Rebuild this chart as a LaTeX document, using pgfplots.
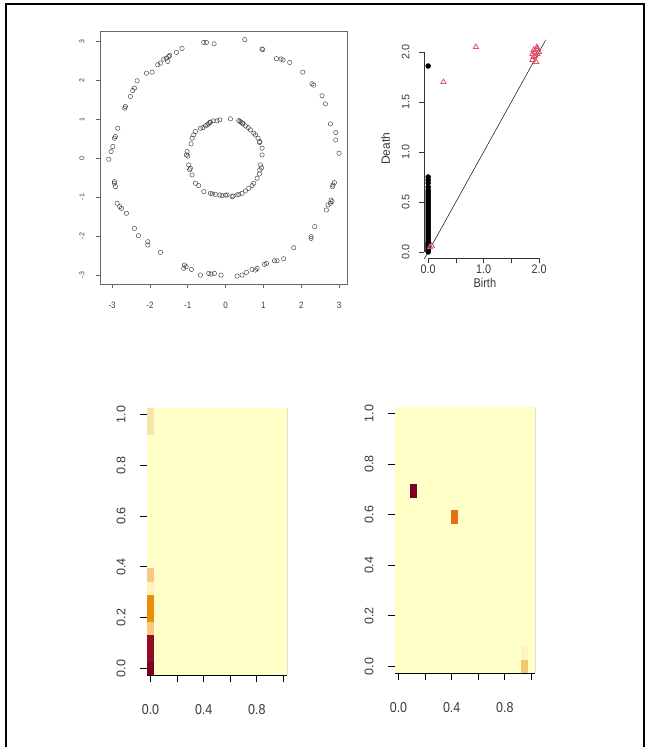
\documentclass[border=0pt]{standalone}
\usepackage{pgfplots}
\pgfplotsset{compat=1.18}
\usepackage{fontspec}
\setmainfont{Liberation Sans}
\definecolor{hbg}{RGB}{255,255,200}
\definecolor{hdr}{RGB}{125,0,36}
\definecolor{hdrb}{RGB}{145,10,40}
\definecolor{hor}{RGB}{238,140,12}
\definecolor{hlo}{RGB}{247,200,130}
\definecolor{hpa}{RGB}{251,228,168}
\definecolor{hfa}{RGB}{253,243,192}
\definecolor{hro}{RGB}{232,108,28}
\definecolor{hbr}{RGB}{240,200,110}
\definecolor{rtri}{HTML}{DF536B}
\pgfplotsset{
  xlab/.style={font=\fontsize{#1}{#1}\selectfont, text=black!78, yscale=1.15},
  ylab/.style={font=\fontsize{#1}{#1}\selectfont, text=black!78, rotate=90, anchor=south},
}
\begin{document}
\begin{tikzpicture}
\useasboundingbox (0pt,0pt) rectangle (645pt,747pt);
\draw[line width=2pt] (5.8pt,0pt) -- (5.8pt,742.7pt) -- (643.8pt,742.7pt) -- (643.8pt,0pt);

% ---------- scatter of two circles ----------
\begin{axis}[at={(100pt,463pt)}, anchor=south west, scale only axis,
  width=247pt, height=253pt,
  xmin=-3.32, xmax=3.21, ymin=-3.23, ymax=3.26,
  xtick={-3,-2,-1,0,1,2,3}, ytick={-3,-2,-1,0,1,2,3},
  xticklabels={-3,-2,-1,0,1,2,3}, yticklabels={-3,-2,-1,0,1,2,3},
  tick align=outside, tick pos=left, major tick length=4pt,
  axis line style={black!60, line width=0.7pt},
  tick style={black!60, line width=0.6pt},
  xticklabel style={xlab=8, yshift=-9pt},
  yticklabel style={xshift=-8pt, ylab=7},
  clip=false]
\addplot[only marks, mark=o, mark size=2.2pt, black!75, line width=0.45pt] coordinates {
(-0.577,2.967) (-0.507,2.967) (-0.304,2.932) (0.507,3.039) (0.965,2.800) (0.982,2.783)
(1.344,2.551) (1.467,2.543) (1.520,2.517) (1.696,2.453) (2.040,2.205) (2.286,1.905)
(2.330,1.871) (2.551,1.597) (2.639,1.391) (2.771,0.878) (2.912,0.655) (2.912,0.467)
(3.000,0.124) (2.877,-0.629) (2.841,-0.689) (2.824,-0.732) (2.789,-1.075) (2.815,-1.117)
(2.771,-1.160) (2.709,-1.203) (2.665,-1.331) (2.357,-1.759) (2.260,-2.016) (2.260,-2.059)
(1.802,-2.299) (1.537,-2.582) (1.291,-2.633) (1.361,-2.633) (1.079,-2.701) (1.026,-2.727)
(0.833,-2.830) (0.789,-2.873) (0.700,-2.855) (0.551,-2.932) (0.436,-3.001) (0.304,-3.027)
(-0.119,-3.001) (-0.295,-2.958) (-0.383,-2.976) (-0.445,-2.958) (-0.665,-3.001) (-0.903,-2.856)
(-1.044,-2.787) (-1.106,-2.830) (-1.088,-2.744) (-1.722,-2.419) (-2.057,-2.230) (-2.057,-2.145)
(-2.304,-1.991) (-2.410,-1.803) (-2.621,-1.417) (-2.753,-1.289) (-2.797,-1.246) (-2.868,-1.160)
(-2.912,-0.732) (-2.938,-0.646) (-2.938,-0.604) (-3.088,-0.030) (-3.026,0.167) (-2.982,0.296)
(-2.938,0.510) (-2.912,0.552) (-2.850,0.766) (-2.665,1.280) (-2.648,1.323) (-2.515,1.580)
(-2.454,1.734) (-2.410,1.794) (-2.339,1.982) (-2.093,2.179) (-1.943,2.205) (-1.793,2.393)
(-1.722,2.436) (-1.634,2.538) (-1.564,2.564) (-1.502,2.607) (-1.476,2.632) (-1.529,2.479)
(-1.300,2.710) (-1.150,2.813)
(-0.225,0.955) (-0.154,0.980) (0.128,1.006) (0.348,0.963) (0.410,0.920) (0.463,0.878)
(0.524,0.826) (0.656,0.723) (0.744,0.638) (0.789,0.595) (0.859,0.509) (0.903,0.423)
(0.965,0.253) (0.965,0.081) (0.921,-0.176) (0.903,-0.304) (0.894,-0.407) (0.833,-0.518)
(0.744,-0.646) (0.700,-0.706) (0.612,-0.775) (0.524,-0.843) (0.436,-0.903) (0.304,-0.946)
(0.198,-0.972) (0.172,-0.989) (0.040,-0.946) (-0.093,-0.963) (-0.154,-0.946) (-0.269,-0.929)
(-0.401,-0.903) (-0.577,-0.860) (-0.709,-0.706) (-0.797,-0.646) (-0.885,-0.432) (-0.930,-0.261)
(-0.974,-0.176) (-1.035,0.081) (-1.018,0.167) (-0.912,0.364) (-0.885,0.509) (-0.841,0.595)
(-0.797,0.681) (-0.665,0.766) (-0.533,0.826) (-0.489,0.852) (-0.419,0.912) (-0.330,0.955)
(-0.450,0.880) (-0.400,0.920) (0.380,0.940) (0.450,0.900) (0.000,-0.950) (-0.350,-0.920)
(0.350,-0.930) (-0.950,-0.300) (-1.000,0.050) (0.950,-0.250) (0.900,0.400) (-0.600,0.780)
(0.600,0.780)
};
\end{axis}

% ---------- persistence diagram ----------
\begin{axis}[at={(424pt,488.5pt)}, anchor=south west, scale only axis,
  width=121.7pt, height=219.5pt,
  xmin=-0.075, xmax=2.12, ymin=-0.065, ymax=2.13,
  axis line style={draw=none},
  xtick={0,0.5,1,1.5,2}, xticklabels={0.0,,1.0,,2.0},
  ytick={0,0.5,1,1.5,2}, yticklabels={0.0,0.5,1.0,1.5,2.0},
  tick align=outside, tick pos=left, major tick length=5pt,
  tick style={black!80, line width=0.7pt},
  xticklabel style={xlab=10.8, yshift=2pt},
  yticklabel style={xshift=-6pt, ylab=10.8},
  xlabel={Birth}, ylabel={Death},
  xlabel style={font=\fontsize{11}{11}\selectfont, text=black!78, yscale=1.15, yshift=3pt},
  ylabel style={font=\fontsize{12}{12}\selectfont, text=black!78, yshift=5pt},
  clip mode=individual]
\draw[black!80, line width=0.7pt] (axis cs:0,-0.065) -- (axis cs:2,-0.065);
\draw[black!80, line width=0.7pt] (axis cs:-0.075,0) -- (axis cs:-0.075,2);
\addplot[black!85, line width=0.6pt] coordinates {(-0.2,-0.2) (2.3,2.3)};
\addplot[only marks, mark=*, mark size=2.5pt, black] coordinates {
(0,0.00) (0,0.01) (0,0.02) (0,0.03) (0,0.04) (0,0.05) (0,0.06) (0,0.07) (0,0.08) (0,0.09)
(0,0.10) (0,0.12) (0,0.14) (0,0.16) (0,0.18) (0,0.20) (0,0.22) (0,0.24) (0,0.26) (0,0.28)
(0,0.30) (0,0.32) (0,0.34) (0,0.36) (0,0.38) (0,0.40) (0,0.42) (0,0.44) (0,0.46) (0,0.48)
(0,0.50) (0,0.52) (0,0.54) (0,0.56) (0,0.58) (0,0.60) (0,0.62) (0,0.65) (0,0.69) (0,0.72)
(0,0.75) (0,1.86)
};
\addplot[only marks, mark=triangle, mark size=3pt, rtri, line width=0.8pt] coordinates {
(0.066,0.063) (0.03,0.05) (0.276,1.70) (0.86,2.05)
(1.88,1.92) (1.90,1.95) (1.92,2.00) (1.95,2.03) (1.97,1.98) (1.93,1.96)
(1.98,2.03) (1.90,2.02) (1.95,1.90) (2.00,2.00) (1.88,1.98) (1.96,2.05)
};
\end{axis}

% ---------- heatmap 1 ----------
\begin{axis}[at={(147pt,72pt)}, anchor=south west, scale only axis,
  width=140pt, height=267pt,
  xmin=-0.0263, xmax=1.0263, ymin=-0.0263, ymax=1.0263,
  axis background/.style={fill=hbg},
  axis x line*=bottom, axis y line*=left,
  y axis line style={draw=none},
  x axis line style={black, line width=0.9pt},
  xtick={0,0.2,0.4,0.6,0.8,1}, xticklabels={0.0,,0.4,,0.8,},
  ytick={0,0.2,0.4,0.6,0.8,1}, yticklabels={0.0,0.2,0.4,0.6,0.8,1.0},
  tick align=outside, major tick length=7pt,
  tick style={black, line width=0.9pt},
  xticklabel style={xlab=12.5, yshift=-16pt},
  yticklabel style={xshift=-11pt, ylab=12.5}]
\addplot[draw=none, fill=hdr] coordinates {(-0.0263,-0.0263) (0.0263,-0.0263) (0.0263,0.0263) (-0.0263,0.0263)} --cycle;
\addplot[draw=none, fill=hdrb] coordinates {(-0.0263,0.0263) (0.0263,0.0263) (0.0263,0.1316) (-0.0263,0.1316)} --cycle;
\addplot[draw=none, fill=hlo] coordinates {(-0.0263,0.1316) (0.0263,0.1316) (0.0263,0.1842) (-0.0263,0.1842)} --cycle;
\addplot[draw=none, fill=hor] coordinates {(-0.0263,0.1842) (0.0263,0.1842) (0.0263,0.2895) (-0.0263,0.2895)} --cycle;
\addplot[draw=none, fill=hfa] coordinates {(-0.0263,0.2895) (0.0263,0.2895) (0.0263,0.3421) (-0.0263,0.3421)} --cycle;
\addplot[draw=none, fill=hlo] coordinates {(-0.0263,0.3421) (0.0263,0.3421) (0.0263,0.3947) (-0.0263,0.3947)} --cycle;
\addplot[draw=none, fill=hpa] coordinates {(-0.0263,0.9211) (0.0263,0.9211) (0.0263,1.0263) (-0.0263,1.0263)} --cycle;
\draw[black, line width=0.9pt] (rel axis cs:1,0) -- (rel axis cs:1,1);
\end{axis}

% ---------- heatmap 2 ----------
\begin{axis}[at={(395pt,74pt)}, anchor=south west, scale only axis,
  width=140pt, height=266pt,
  xmin=-0.0263, xmax=1.0263, ymin=-0.0263, ymax=1.0263,
  axis background/.style={fill=hbg},
  axis x line*=bottom, axis y line*=left,
  y axis line style={draw=none},
  x axis line style={black, line width=0.9pt},
  xtick={0,0.2,0.4,0.6,0.8,1}, xticklabels={0.0,,0.4,,0.8,},
  ytick={0,0.2,0.4,0.6,0.8,1}, yticklabels={0.0,0.2,0.4,0.6,0.8,1.0},
  tick align=outside, major tick length=7pt,
  tick style={black, line width=0.9pt},
  xticklabel style={xlab=12.5, yshift=-16pt},
  yticklabel style={xshift=-11pt, ylab=12.5}]
\addplot[draw=none, fill=hdr] coordinates {(0.083,0.667) (0.137,0.667) (0.137,0.720) (0.083,0.720)} --cycle;
\addplot[draw=none, fill=hro] coordinates {(0.395,0.565) (0.448,0.565) (0.448,0.617) (0.395,0.617)} --cycle;
\addplot[draw=none, fill=hbr] coordinates {(0.921,-0.0263) (0.974,-0.0263) (0.974,0.0263) (0.921,0.0263)} --cycle;
\addplot[draw=none, fill=hfa] coordinates {(0.921,0.0263) (0.974,0.0263) (0.974,0.0789) (0.921,0.0789)} --cycle;
\draw[black, line width=0.9pt] (rel axis cs:1,0) -- (rel axis cs:1,1);
\end{axis}
\end{tikzpicture}
\end{document}
